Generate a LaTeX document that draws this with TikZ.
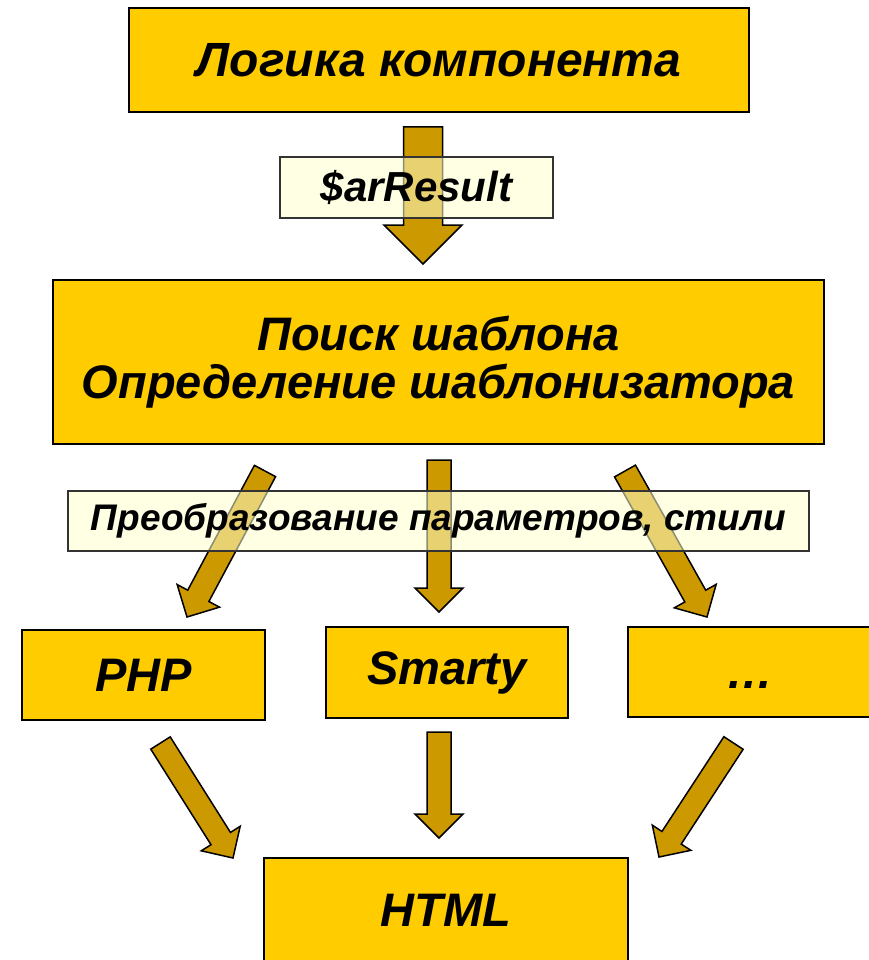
\documentclass[tikz,border=0pt]{standalone}
\usepackage{fontspec}
\setmainfont{Liberation Sans}
\usetikzlibrary{calc}

\definecolor{boxyellow}{RGB}{255,204,0}
\definecolor{arrowgold}{RGB}{204,153,0}
\definecolor{notefill}{RGB}{255,255,204}

% block arrow from #1 to #2, shaft width #3
\newcommand\blockarrow[3]{%
    \coordinate (ba-h) at ($(#2)!#3!(#1)$);
    \filldraw[barrow] ($(#1)!0.5*#3!90:(#2)$) -- ($(ba-h)!0.5*#3!90:(#2)$)
        -- ($(ba-h)!#3!90:(#2)$) -- (#2) -- ($(ba-h)!#3!-90:(#2)$)
        -- ($(ba-h)!0.5*#3!-90:(#2)$) -- ($(#1)!0.5*#3!-90:(#2)$) -- cycle;
}

\begin{document}
\begin{tikzpicture}[x=1pt,y=-1pt,font=\bfseries\itshape]
    \tikzstyle{stage}=[draw=black,line width=2pt,fill=boxyellow,inner sep=0pt,align=center]
    \tikzstyle{note}=[draw=black!80,line width=1.5pt,fill=notefill,fill opacity=0.55,
        text opacity=1,draw opacity=1,inner sep=0pt]
    \tikzstyle{barrow}=[draw=black,line width=1.5pt,fill=arrowgold,line join=miter]

    \useasboundingbox (0,0) rectangle (869,960);
    \clip (0,0) rectangle (869,960);

    % Draw the stages
    \node[stage,minimum width=620pt,minimum height=104pt,font=\fontsize{48}{57}\selectfont\bfseries\itshape]
        (logic) at (439,60) {Логика компонента};
    \node[stage,minimum width=771pt,minimum height=164pt,font=\fontsize{47}{48}\selectfont\bfseries\itshape]
        (search) at (438.5,362) {Поиск шаблона\\Определение шаблонизатора};
    \node[stage,minimum width=243pt,minimum height=90pt,font=\fontsize{47}{56}\selectfont\bfseries\itshape]
        (php) at (143.5,675) {PHP};
    \node[stage,minimum width=242pt,minimum height=91pt,font=\fontsize{47}{56}\selectfont\bfseries\itshape]
        (smarty) at (447,672.5) {Smarty};
    \node[stage,minimum width=243pt,minimum height=90pt,font=\fontsize{47}{56}\selectfont\bfseries\itshape]
        (more) at (749.5,672) {\vphantom{PHP}…};
    \node[stage,minimum width=364pt,minimum height=104pt,font=\fontsize{47}{56}\selectfont\bfseries\itshape]
        (html) at (446,910) {HTML};

    % Arrow ends
    \coordinate (a1-s) at (423,127);   \coordinate (a1-e) at (423,264);
    \coordinate (a2-s) at (265,471);   \coordinate (a2-e) at (187,617);
    \coordinate (a3-s) at (439,460);   \coordinate (a3-e) at (439,612);
    \coordinate (a4-s) at (625,471);   \coordinate (a4-e) at (707,617);
    \coordinate (a5-s) at (160.5,743); \coordinate (a5-e) at (233,858);
    \coordinate (a6-s) at (439,732);   \coordinate (a6-e) at (439,838);
    \coordinate (a7-s) at (733.5,743); \coordinate (a7-e) at (659,857);

    % Draw the arrows
    \blockarrow{a1-s}{a1-e}{39pt}
    \foreach \n in {2,3,4,6}
        {\blockarrow{a\n-s}{a\n-e}{24pt}}
    \foreach \n in {5,7}
        {\blockarrow{a\n-s}{a\n-e}{23pt}}

    % Notes over the arrows
    \node[note,minimum width=273pt,minimum height=61pt,font=\fontsize{42}{50}\selectfont\bfseries\itshape]
        (result) at (416.5,187.5) {\$arResult};
    \node[note,minimum width=741pt,minimum height=60pt,font=\fontsize{37}{44}\selectfont\bfseries\itshape]
        (convert) at (438.5,521) {Преобразование параметров, стили};
\end{tikzpicture}
\end{document}
